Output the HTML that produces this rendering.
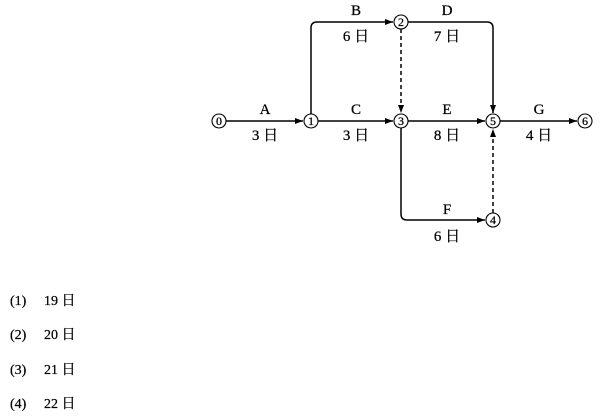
<!DOCTYPE html>
<html><head><meta charset="utf-8"><style>
body{margin:0;background:#fff;width:610px;height:420px;overflow:hidden}
svg{position:absolute;left:0;top:0}
text{font-family:"Liberation Serif","Noto Serif CJK SC",serif;fill:#000;stroke:#000;stroke-width:0.25}
</style></head><body>
<svg width="610" height="420" viewBox="0 0 610 420">
<defs><marker id="a" markerWidth="8" markerHeight="6" refX="8" refY="3" orient="auto" markerUnits="userSpaceOnUse"><path d="M0,0 L8,3 L0,6z" fill="#000"/></marker></defs>
<g stroke="#000" stroke-width="1.5" fill="none">
<line x1="226" y1="121" x2="303" y2="121" marker-end="url(#a)"/>
<line x1="318" y1="121" x2="393" y2="121" marker-end="url(#a)"/>
<line x1="408" y1="121" x2="485" y2="121" marker-end="url(#a)"/>
<line x1="500" y1="121" x2="577" y2="121" marker-end="url(#a)"/>
<path d="M311,114 V28 Q311,22 317,22 H393" marker-end="url(#a)"/>
<path d="M408,22 H487 Q493,22 493,28 V113" marker-end="url(#a)"/>
<path d="M401,128 V214 Q401,220 407,220 H485" marker-end="url(#a)"/>
<line x1="401" y1="29" x2="401" y2="113" stroke-dasharray="4,3" marker-end="url(#a)"/>
<line x1="493" y1="213" x2="493" y2="129" stroke-dasharray="4,3" marker-end="url(#a)"/>
<g fill="#fff" stroke-width="1.1">
<circle cx="219" cy="121" r="7"/><circle cx="311" cy="121" r="7"/><circle cx="401" cy="22" r="7"/>
<circle cx="401" cy="121" r="7"/><circle cx="493" cy="121" r="7"/><circle cx="585" cy="121" r="7"/><circle cx="493" cy="220" r="7"/>
</g></g>
<g font-size="12" text-anchor="middle">
<text x="219" y="125">0</text><text x="311" y="125">1</text><text x="401" y="26">2</text>
<text x="401" y="125">3</text><text x="493" y="125">5</text><text x="585" y="125">6</text><text x="493" y="224">4</text>
</g>
<g font-size="15" text-anchor="middle">
<text x="265" y="114">A</text><text x="265" y="140">3 日</text>
<text x="356" y="114">C</text><text x="356" y="140">3 日</text>
<text x="447" y="114">E</text><text x="447" y="140">8 日</text>
<text x="539" y="114">G</text><text x="539" y="140">4 日</text>
<text x="356" y="15">B</text><text x="356" y="41">6 日</text>
<text x="447" y="15">D</text><text x="447" y="41">7 日</text>
<text x="447" y="214">F</text><text x="447" y="241">6 日</text>
</g>
<g font-size="14">
<text x="10" y="305">(1)</text><text x="44" y="305">19 日</text>
<text x="10" y="339">(2)</text><text x="44" y="339">20 日</text>
<text x="10" y="374">(3)</text><text x="44" y="374">21 日</text>
<text x="10" y="408">(4)</text><text x="44" y="408">22 日</text>
</g>
</svg>
</body></html>
